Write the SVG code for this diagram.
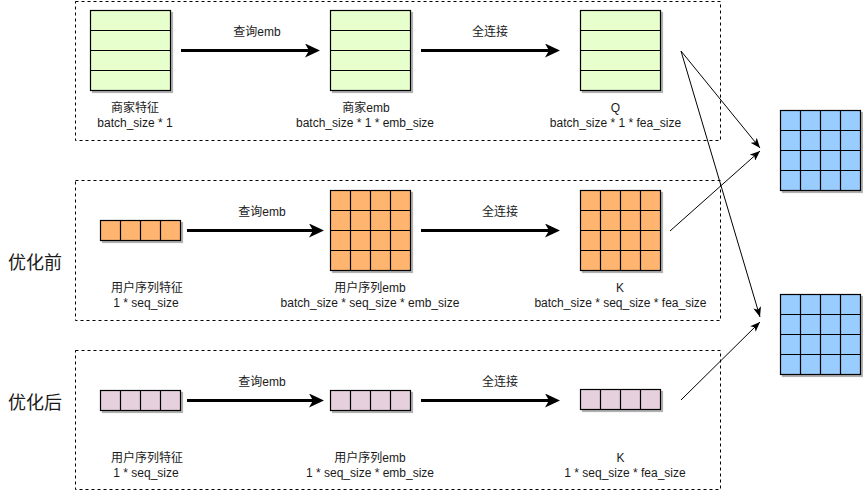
<svg xmlns="http://www.w3.org/2000/svg" width="863" height="491" viewBox="0 0 863 491">
<style>
.bg{fill:#ffffff}
.frame{fill:none;stroke:#000;stroke-width:1;stroke-dasharray:3 3}
.cell{stroke:#000;stroke-width:1.2}
.g{fill:#e6ffcc}
.o{fill:#ffb570}
.p{fill:#e6d0de}
.b{fill:#99ccff}
.ln{stroke:#000;stroke-width:1.2;fill:none}
.t{font-family:"Liberation Sans","Noto Sans CJK SC",sans-serif;font-size:12px;fill:#1a1a1a;text-anchor:middle}
.big{font-family:"Liberation Sans","Noto Sans CJK SC",sans-serif;font-size:18px;fill:#1a1a1a;text-anchor:middle}
.thick{stroke:#000;stroke-width:3;fill:none}
.thin{stroke:#000;stroke-width:1;fill:none}
</style>
<defs>
<filter id="sh" x="-10%" y="-10%" width="130%" height="130%">
<feDropShadow dx="2" dy="2" stdDeviation="0.6" flood-color="#000" flood-opacity="0.3"/>
</filter>
<marker id="ah" viewBox="0 0 15 14" refX="4" refY="7" markerWidth="15" markerHeight="14" markerUnits="userSpaceOnUse" orient="auto">
<path d="M0,0 L15,7 L0,14 L4,7 z" fill="#000"/>
</marker>
<marker id="at" viewBox="0 0 10 8" refX="10" refY="4" markerWidth="10" markerHeight="8" markerUnits="userSpaceOnUse" orient="auto">
<path d="M0,0 L10,4 L0,8 L2.5,4 z" fill="#000"/>
</marker>
</defs>
<rect class="bg" x="0" y="0" width="863" height="491"/>

<g id="frames">
<rect class="frame" x="75.5" y="1.5" width="645" height="139"/>
<rect class="frame" x="75.5" y="180.5" width="645" height="140"/>
<rect class="frame" x="75.5" y="350.5" width="645" height="139"/>
</g>

<g id="label-before"><text class="big" x="35" y="268.5">优化前</text></g>
<g id="label-after"><text class="big" x="35" y="408.5">优化后</text></g>

<!-- Row 1 -->
<g id="merchant-feature">
<rect class="cell g" x="90.5" y="10.5" width="80" height="80" filter="url(#sh)"/>
<path class="ln" d="M90.5,30.5H170.5M90.5,50.5H170.5M90.5,70.5H170.5"/>
<text class="t" x="135" y="112">商家特征</text>
<text class="t" x="135" y="127">batch_size * 1</text>
</g>
<g id="merchant-emb">
<rect class="cell g" x="330.5" y="10.5" width="80" height="80" filter="url(#sh)"/>
<path class="ln" d="M330.5,30.5H410.5M330.5,50.5H410.5M330.5,70.5H410.5"/>
<text class="t" x="366" y="112">商家emb</text>
<text class="t" x="365" y="127">batch_size * 1 * emb_size</text>
</g>
<g id="Q">
<rect class="cell g" x="580.5" y="10.5" width="80" height="80" filter="url(#sh)"/>
<path class="ln" d="M580.5,30.5H660.5M580.5,50.5H660.5M580.5,70.5H660.5"/>
<text class="t" x="615.5" y="112">Q</text>
<text class="t" x="615.5" y="127">batch_size * 1 * fea_size</text>
</g>

<!-- Row 2 -->
<g id="user-seq-feature-before">
<rect class="cell o" x="100.5" y="220.5" width="80" height="20" filter="url(#sh)"/>
<path class="ln" d="M120.5,220.5V240.5M140.5,220.5V240.5M160.5,220.5V240.5"/>
<text class="t" x="147" y="292">用户序列特征</text>
<text class="t" x="146" y="307">1 * seq_size</text>
</g>
<g id="user-seq-emb-before">
<rect class="cell o" x="330.5" y="190.5" width="80" height="80" filter="url(#sh)"/>
<path class="ln" d="M350.5,190.5V270.5M370.5,190.5V270.5M390.5,190.5V270.5M330.5,210.5H410.5M330.5,230.5H410.5M330.5,250.5H410.5"/>
<text class="t" x="370" y="292">用户序列emb</text>
<text class="t" x="370" y="307">batch_size * seq_size * emb_size</text>
</g>
<g id="K-before">
<rect class="cell o" x="580.5" y="190.5" width="80" height="80" filter="url(#sh)"/>
<path class="ln" d="M600.5,190.5V270.5M620.5,190.5V270.5M640.5,190.5V270.5M580.5,210.5H660.5M580.5,230.5H660.5M580.5,250.5H660.5"/>
<text class="t" x="620" y="292">K</text>
<text class="t" x="620.5" y="307">batch_size * seq_size * fea_size</text>
</g>

<!-- Row 3 -->
<g id="user-seq-feature-after">
<rect class="cell p" x="100.5" y="390.5" width="80" height="20" filter="url(#sh)"/>
<path class="ln" d="M120.5,390.5V410.5M140.5,390.5V410.5M160.5,390.5V410.5"/>
<text class="t" x="147" y="462">用户序列特征</text>
<text class="t" x="146" y="477">1 * seq_size</text>
</g>
<g id="user-seq-emb-after">
<rect class="cell p" x="330.5" y="390.5" width="80" height="20" filter="url(#sh)"/>
<path class="ln" d="M350.5,390.5V410.5M370.5,390.5V410.5M390.5,390.5V410.5"/>
<text class="t" x="370" y="462">用户序列emb</text>
<text class="t" x="370" y="477">1 * seq_size * emb_size</text>
</g>
<g id="K-after">
<rect class="cell p" x="580.5" y="389.5" width="80" height="20" filter="url(#sh)"/>
<path class="ln" d="M600.5,389.5V409.5M620.5,389.5V409.5M640.5,389.5V409.5"/>
<text class="t" x="620.5" y="462">K</text>
<text class="t" x="625" y="477">1 * seq_size * fea_size</text>
</g>

<!-- Results -->
<g id="result-before">
<rect class="cell b" x="780.5" y="110.5" width="80" height="80" filter="url(#sh)"/>
<path class="ln" d="M800.5,110.5V190.5M820.5,110.5V190.5M840.5,110.5V190.5M780.5,130.5H860.5M780.5,150.5H860.5M780.5,170.5H860.5"/>
</g>
<g id="result-after">
<rect class="cell b" x="780.5" y="294.5" width="80" height="80" filter="url(#sh)"/>
<path class="ln" d="M800.5,294.5V374.5M820.5,294.5V374.5M840.5,294.5V374.5M780.5,314.5H860.5M780.5,334.5H860.5M780.5,354.5H860.5"/>
</g>

<g id="connectors">
<line class="thick" x1="181" y1="50.5" x2="309" y2="50.5" marker-end="url(#ah)"/>
<text class="t" x="257" y="36">查询emb</text>
<line class="thick" x1="421" y1="50.5" x2="549" y2="50.5" marker-end="url(#ah)"/>
<text class="t" x="490" y="36">全连接</text>

<line class="thick" x1="187" y1="230.5" x2="313" y2="230.5" marker-end="url(#ah)"/>
<text class="t" x="262" y="216">查询emb</text>
<line class="thick" x1="421" y1="230.5" x2="549" y2="230.5" marker-end="url(#ah)"/>
<text class="t" x="500" y="216">全连接</text>

<line class="thick" x1="187" y1="400.5" x2="313" y2="400.5" marker-end="url(#ah)"/>
<text class="t" x="262" y="386">查询emb</text>
<line class="thick" x1="421" y1="400.5" x2="549" y2="400.5" marker-end="url(#ah)"/>
<text class="t" x="500" y="386">全连接</text>

<line class="thin" x1="681" y1="51" x2="760" y2="148" marker-end="url(#at)"/>
<line class="thin" x1="681" y1="51" x2="760" y2="317" marker-end="url(#at)"/>
<line class="thin" x1="670" y1="231" x2="760" y2="151" marker-end="url(#at)"/>
<line class="thin" x1="681" y1="400" x2="760" y2="322" marker-end="url(#at)"/>
</g>
</svg>
